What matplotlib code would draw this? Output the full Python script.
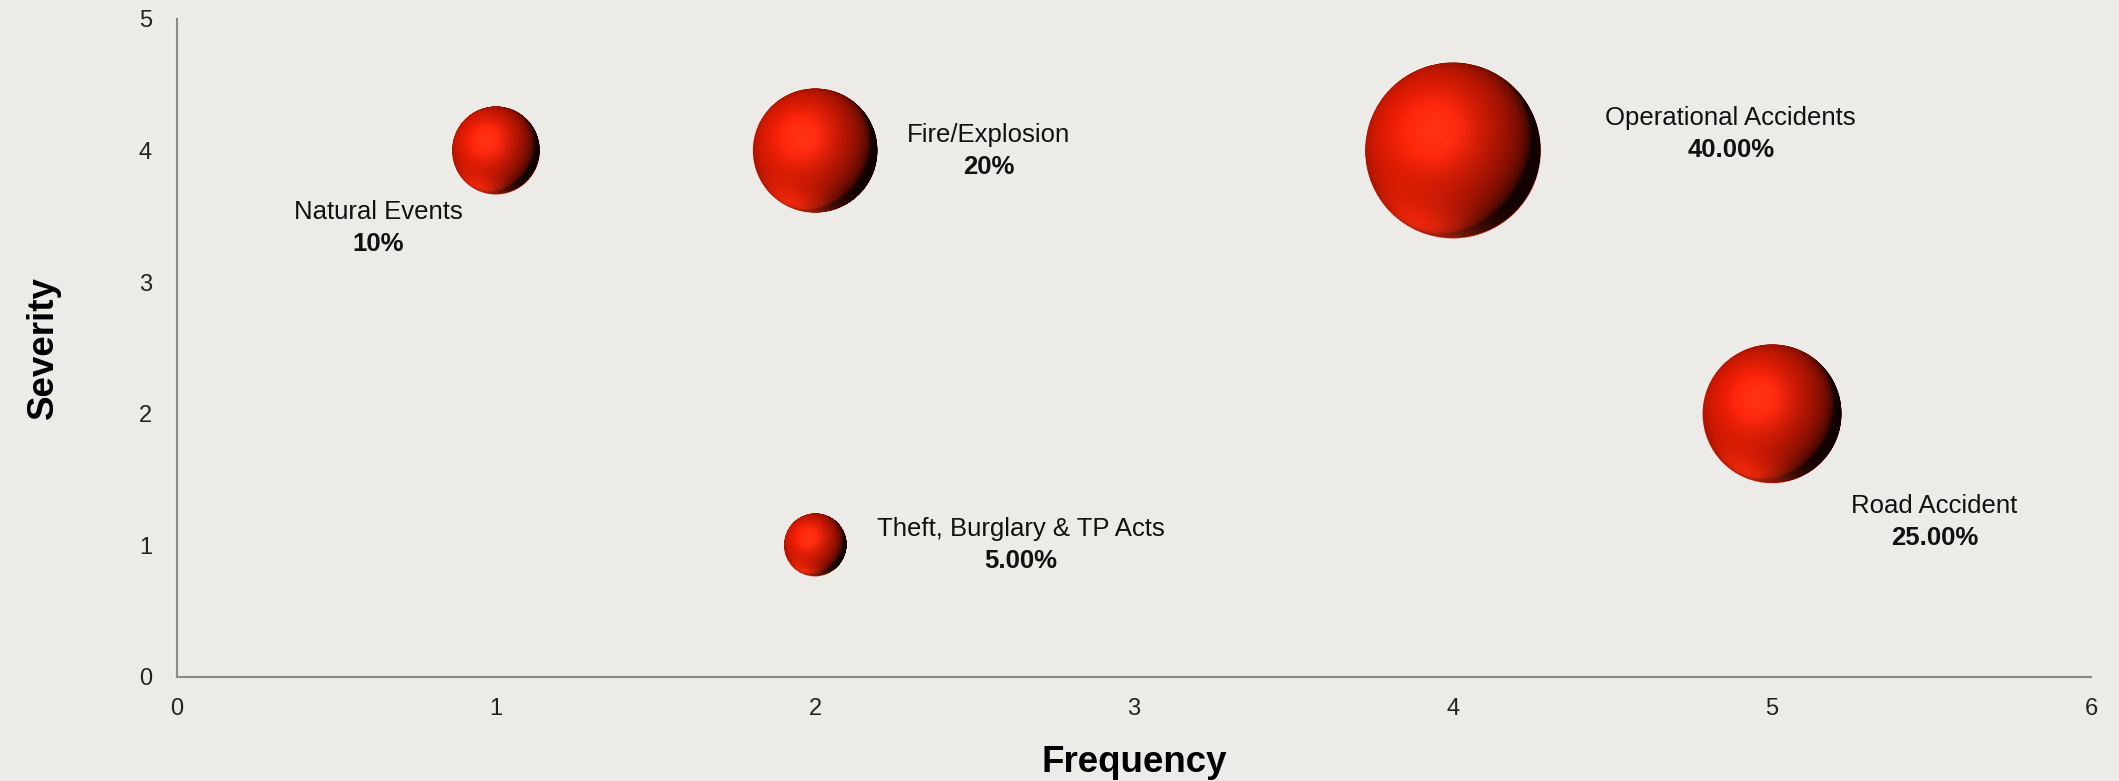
import numpy as np
import matplotlib
matplotlib.use("Agg")
import matplotlib.pyplot as plt
from matplotlib.offsetbox import OffsetImage, AnnotationBbox

# data
risks = ["Natural Events", "Fire/Explosion", "Operational Accidents",
         "Road Accident", "Theft, Burglary & TP Acts"]
frequency = [1, 2, 4, 5, 2]
severity = [4, 4, 4, 2, 1]
share = [10, 20, 40, 25, 5]
share_labels = ["10%", "20%", "40.00%", "25.00%", "5.00%"]

# label placement relative to each bubble (points)
label_offsets = [(-85, -56), (125, 0), (200, 12), (117, -78), (148, 0)]

plt.rcParams['font.family'] = ['Liberation Sans', 'DejaVu Sans']
bg = "#ecebe8"


def sphere_image(n=400):
    # shaded red ball, soft light from the upper left, warm rim at the bottom
    y, x = np.mgrid[1:-1:n * 1j, -1:1:n * 1j]
    r2 = x ** 2 + y ** 2
    r = np.sqrt(r2)
    z = np.sqrt(np.clip(1 - r2, 0, 1))

    def dot(v):
        v = np.array(v, dtype=float)
        v = v / np.linalg.norm(v)
        return np.clip(x * v[0] + y * v[1] + z * v[2], 0, 1)

    diff = dot([-0.45, 0.3, 0.84])
    spec = dot([-0.2, 0.22, 1.0]) ** 10
    rim = dot([-0.3, -1.0, 0.15]) ** 5
    base = np.array([0.84, 0.10, 0.01])
    shade = 0.08 + 1.0 * diff ** 0.55
    img = np.zeros((n, n, 4))
    for c in range(3):
        img[..., c] = base[c] * shade \
            + 0.2 * spec * np.array([1.0, 0.45, 0.35])[c] \
            + 0.6 * rim * np.array([0.95, 0.2, 0.08])[c]
    img[..., :3] = np.clip(img[..., :3], 0, 1)
    img[..., 3] = np.clip((1 - r) * n / 2.5, 0, 1)
    return img


ball = sphere_image()

fig, ax = plt.subplots(figsize=(21.19, 7.81), dpi=100)
fig.patch.set_facecolor(bg)
ax.set_facecolor(bg)
fig.subplots_adjust(left=0.0835, right=0.9868, top=0.9757, bottom=0.1332)

sizes = [v * 400 for v in share]
ax.scatter(frequency, severity, s=sizes, color="#c81a05", linewidths=0, zorder=2)

for fx, sy, s in zip(frequency, severity, sizes):
    d = np.sqrt(s)
    im = OffsetImage(ball, zoom=d / ball.shape[0])
    ab = AnnotationBbox(im, (fx, sy), frameon=False, pad=0, zorder=3)
    ax.add_artist(ab)

for name, pct, fx, sy, (dx, dy) in zip(risks, share_labels, frequency, severity, label_offsets):
    ax.annotate(name, (fx, sy), xytext=(dx, dy + 11.5), textcoords="offset points",
                ha="center", va="center", fontsize=18.5, color="#111111")
    ax.annotate(pct, (fx, sy), xytext=(dx, dy - 11.5), textcoords="offset points",
                ha="center", va="center", fontsize=18.5, fontweight="bold", color="#111111")

ax.set_xlim(0, 6)
ax.set_ylim(0, 5)
ax.set_xticks(range(0, 7))
ax.set_yticks(range(0, 6))
ax.tick_params(axis="both", length=0, labelsize=17, colors="#222222")
ax.tick_params(axis="y", pad=18)
ax.tick_params(axis="x", pad=15)
for side in ["top", "right"]:
    ax.spines[side].set_visible(False)
for side in ["left", "bottom"]:
    ax.spines[side].set_color("#8a8a8a")
    ax.spines[side].set_linewidth(1.5)

ax.set_xlabel("Frequency", fontsize=26.5, fontweight="bold", labelpad=18)
ax.set_ylabel("Severity", fontsize=26.5, fontweight="bold", labelpad=56)

fig.savefig("out.png", dpi=100, facecolor=bg)
